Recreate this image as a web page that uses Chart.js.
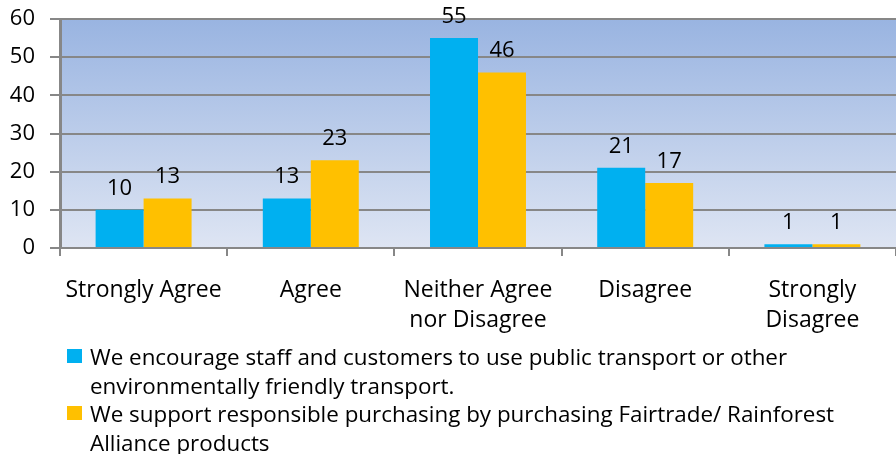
<!DOCTYPE html>
<html>
<head>
<meta charset="utf-8">
<script src="https://cdn.jsdelivr.net/npm/chart.js@4.4.1/dist/chart.umd.min.js"></script>
<style>
  html, body { margin: 0; padding: 0; background: #fff; }
  #wrap { width: 896px; height: 454px; position: relative; }
</style>
</head>
<body>
<div id="wrap"><canvas id="chart"></canvas></div>
<script>
// chart data
const categories = [["Strongly Agree"], ["Agree"], ["Neither Agree", "nor Disagree"], ["Disagree"], ["Strongly", "Disagree"]];
const transportValues = [10, 13, 55, 21, 1];
const fairtradeValues = [13, 23, 46, 17, 1];
const seriesNames = [
  "We encourage staff and customers to use public transport or other environmentally friendly transport.",
  "We support responsible purchasing by purchasing Fairtrade/ Rainforest Alliance products"
];
// how the legend text wraps in the picture
const legendLines = [
  ["We encourage staff and customers to use public transport or other", "environmentally friendly transport."],
  ["We support responsible purchasing by purchasing Fairtrade/ Rainforest", "Alliance products"]
];
const yTicks = [0, 10, 20, 30, 40, 50, 60];

const FONT = "'Open Sans', sans-serif";
const blue = "#00b0f0", orange = "#ffc000";
const gridCol = "#878787";

// gradient fill behind the bars
const plotBg = {
  id: 'plotBg',
  beforeDraw(chart) {
    const {ctx, chartArea: a} = chart;
    const g = ctx.createLinearGradient(0, a.top, 0, a.bottom);
    g.addColorStop(0, '#99b4e1');
    g.addColorStop(1, '#dee5f3');
    ctx.save();
    ctx.fillStyle = g;
    ctx.fillRect(a.left, a.top, a.right - a.left, a.bottom - a.top);
    ctx.restore();
  }
};

// numbers above each bar
const valueLabels = {
  id: 'valueLabels',
  afterDatasetsDraw(chart) {
    const ctx = chart.ctx;
    ctx.save();
    ctx.font = "22px " + FONT;
    ctx.fillStyle = '#000';
    ctx.textAlign = 'center';
    ctx.textBaseline = 'alphabetic';
    chart.data.datasets.forEach((ds, i) => {
      chart.getDatasetMeta(i).data.forEach((bar, j) => {
        ctx.fillText(ds.data[j], bar.x, bar.y - 15);
      });
    });
    ctx.restore();
  }
};

// wrapped legend under the axis
const wrapLegend = {
  id: 'wrapLegend',
  afterDraw(chart) {
    const ctx = chart.ctx;
    ctx.save();
    ctx.font = "22.4px " + FONT;
    ctx.textAlign = 'left';
    ctx.textBaseline = 'alphabetic';
    let base = 365;
    chart.data.datasets.forEach((ds, i) => {
      ctx.fillStyle = ds.backgroundColor;
      ctx.fillRect(67, base - 16, 15, 14);
      ctx.fillStyle = '#000';
      legendLines[i].forEach(line => {
        ctx.fillText(line, 90, base);
        base += 28.5;
      });
    });
    ctx.restore();
  }
};

new Chart(document.getElementById('chart'), {
  type: 'bar',
  data: {
    labels: categories,
    datasets: [
      { label: seriesNames[0], data: transportValues, backgroundColor: blue },
      { label: seriesNames[1], data: fairtradeValues, backgroundColor: orange }
    ]
  },
  options: {
    responsive: true,
    maintainAspectRatio: false,
    animation: false,
    layout: { padding: { top: 19, right: 0, bottom: 116, left: 0 } },
    categoryPercentage: 0.574,
    barPercentage: 1,
    plugins: {
      legend: { display: false },
      tooltip: { enabled: false }
    },
    scales: {
      x: {
        grid: {
          display: true,
          offset: true,
          drawOnChartArea: false,
          drawTicks: true,
          tickLength: 8,
          color: gridCol,
          lineWidth: 2
        },
        border: { display: true, color: gridCol, width: 2 },
        ticks: {
          color: '#000',
          padding: 20,
          maxRotation: 0,
          autoSkip: false,
          font: { size: 23, family: FONT, lineHeight: 1.28 }
        },
        afterFit(scale) { scale.height = 90; }
      },
      y: {
        min: 0,
        max: 60,
        afterBuildTicks(scale) { scale.ticks = yTicks.map(v => ({ value: v })); },
        grid: {
          color: gridCol,
          lineWidth: 2,
          tickLength: 10,
          drawTicks: true
        },
        border: { display: true, color: gridCol, width: 3 },
        ticks: {
          color: '#000',
          padding: 15,
          font: { size: 22, family: FONT }
        },
        afterFit(scale) {
          scale.width = 60;
          scale.paddingTop = 8;
          scale.paddingBottom = 0;
        }
      }
    }
  },
  plugins: [plotBg, valueLabels, wrapLegend]
});
</script>
</body>
</html>
